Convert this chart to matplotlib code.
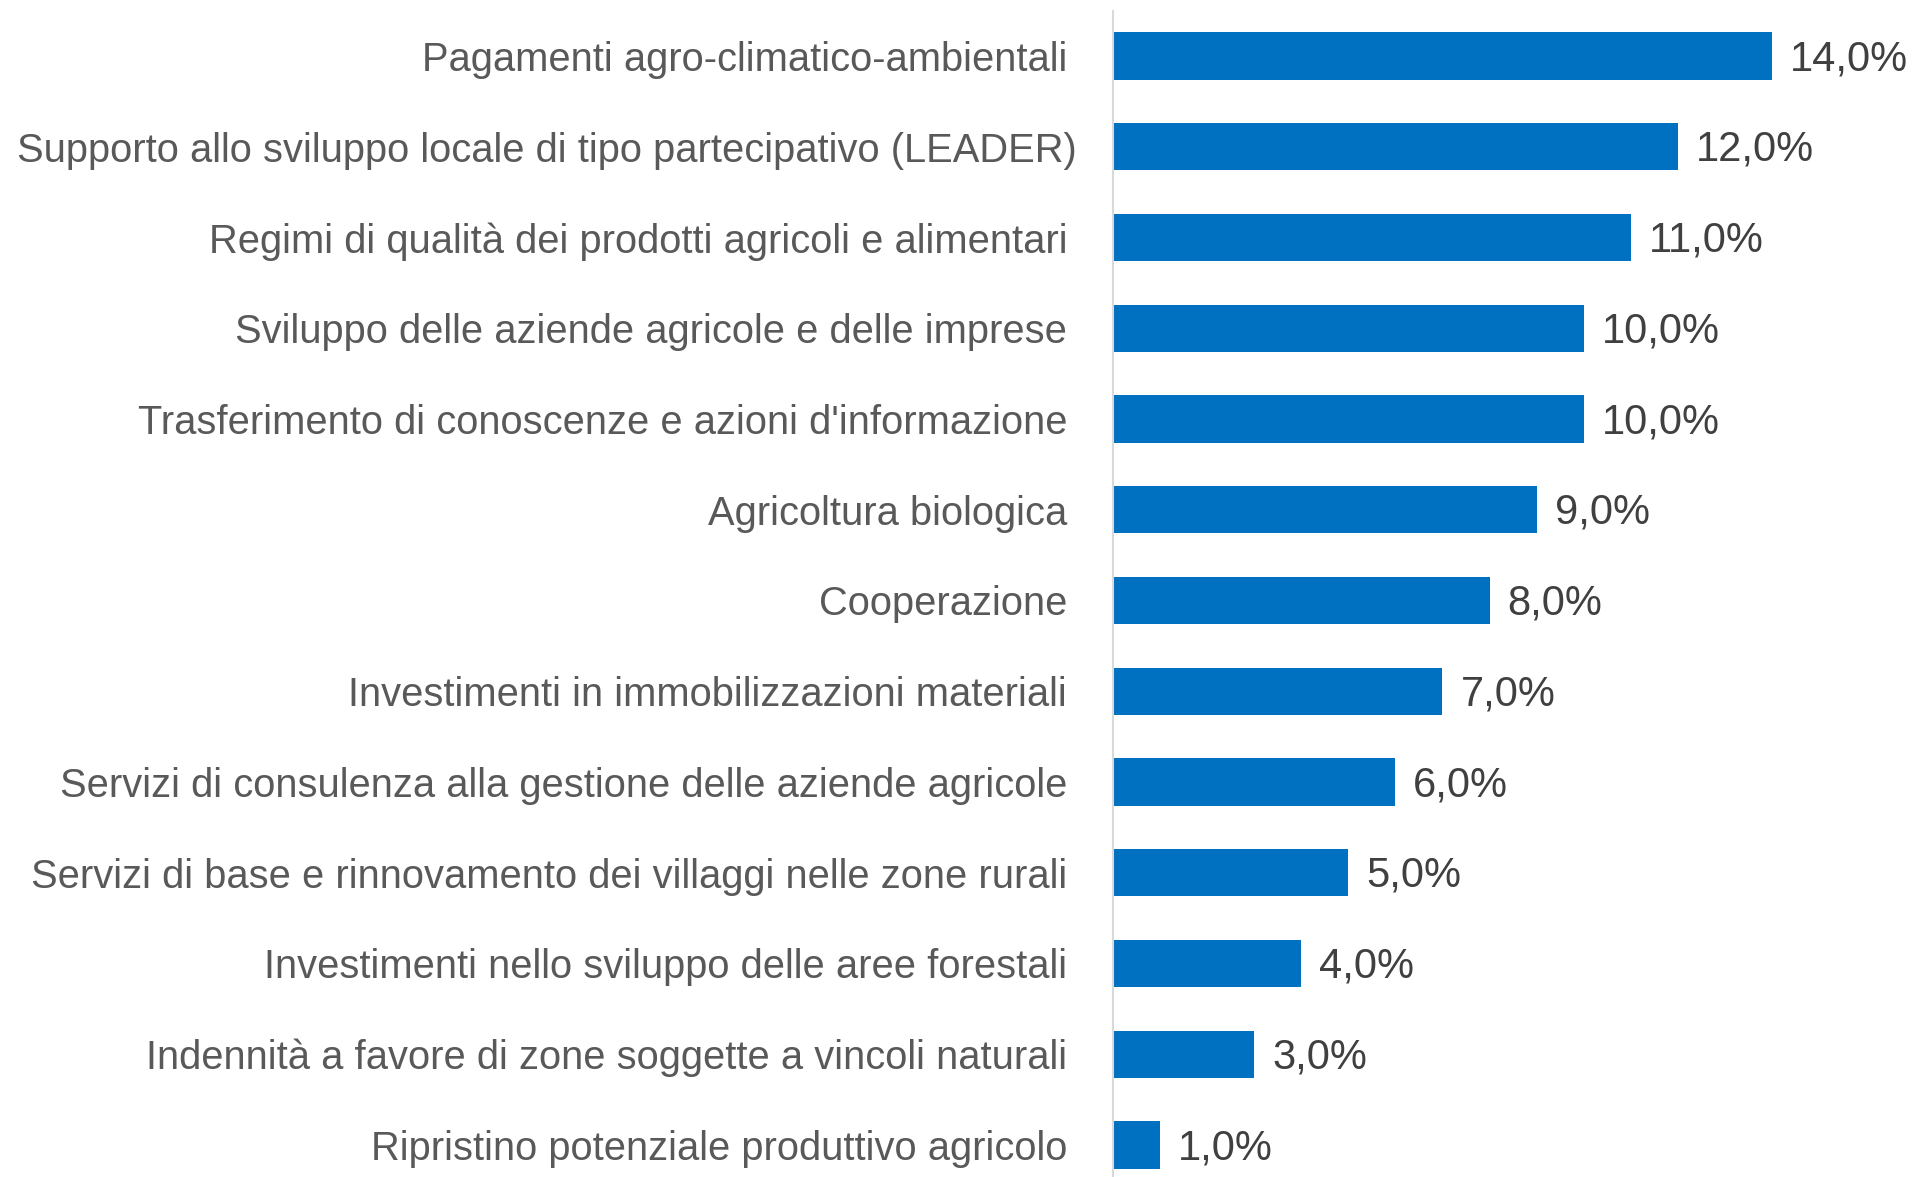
import matplotlib.pyplot as plt
from matplotlib.transforms import ScaledTranslation

plt.rcParams['font.family'] = ['Liberation Sans', 'DejaVu Sans']

categories = [
    "Pagamenti agro-climatico-ambientali",
    "Supporto allo sviluppo locale di tipo partecipativo (LEADER)",
    "Regimi di qualità dei prodotti agricoli e alimentari",
    "Sviluppo delle aziende agricole e delle imprese",
    "Trasferimento di conoscenze e azioni d'informazione",
    "Agricoltura biologica",
    "Cooperazione",
    "Investimenti in immobilizzazioni materiali",
    "Servizi di consulenza alla gestione delle aziende agricole",
    "Servizi di base e rinnovamento dei villaggi nelle zone rurali",
    "Investimenti nello sviluppo delle aree forestali",
    "Indennità a favore di zone soggette a vincoli naturali",
    "Ripristino potenziale produttivo agricolo",
]
values = [14.0, 12.0, 11.0, 10.0, 10.0, 9.0, 8.0, 7.0, 6.0, 5.0, 4.0, 3.0, 1.0]

bar_color = '#0070C0'
label_color = '#595959'
value_color = '#404040'

W, H = 1919, 1177
fig = plt.figure(figsize=(W / 100, H / 100), dpi=100)
# axes in pixel terms: left at 1113, top at 10.6, slot 90.75 px
ax_left = 1113 / W
ax_top = 10.6 / H
ax_h = 13 * 90.75 / H
ax = fig.add_axes([ax_left, 1 - ax_top - ax_h, 1 - ax_left, ax_h])

y = list(range(len(categories)))
ax.barh(y, values, height=0.52, color=bar_color)
ax.set_ylim(len(categories) - 0.5, -0.5)
ax.set_xlim(0, (W - 1113) / 47.07)

for yi, v in zip(y, values):
    ax.text(v + 0.38, yi + 0.035, f"{v:.1f}".replace('.', ',') + '%', va='center', ha='left',
            fontsize=30, color=value_color)

ax.set_yticks(y)
ax.set_yticklabels(categories, fontsize=28.7, color=label_color)
ax.tick_params(axis='y', length=0, pad=33)
ax.set_xticks([])
for s in ['top', 'right', 'bottom']:
    ax.spines[s].set_visible(False)
ax.spines['left'].set_color('#D9D9D9')
ax.spines['left'].set_linewidth(1.5)

# the LEADER label sits a bit further right in the original
lbl = ax.get_yticklabels()[1]
lbl.set_transform(lbl.get_transform() + ScaledTranslation(0.10, 0, fig.dpi_scale_trans))

fig.savefig('out.png', dpi=100)
